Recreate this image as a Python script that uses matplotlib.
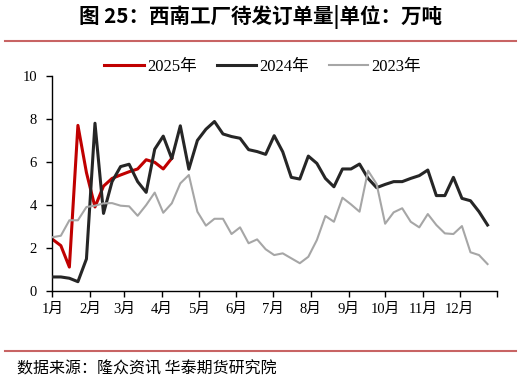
"""西南工厂待发订单量 (weekly, by year)"""
import matplotlib
matplotlib.use('Agg')
import matplotlib.pyplot as plt
import numpy as np

plt.rcParams['font.family'] = ['Liberation Serif', 'Noto Sans CJK SC']
plt.rcParams['axes.unicode_minus'] = False

# weekly readings, unit: 万吨
y2025 = [2.40, 2.10, 1.10, 7.70, 5.50, 3.90, 4.87, 5.23, 5.39, 5.54, 5.67, 6.10, 5.98,
         5.67, 6.17]
y2024 = [0.64, 0.64, 0.58, 0.42, 1.48, 7.80, 3.60, 5.08, 5.78, 5.89, 5.08, 4.58, 6.59,
         7.20, 6.15, 7.68, 5.66, 7.00, 7.52, 7.88, 7.30, 7.18, 7.10, 6.57, 6.48, 6.35,
         7.22, 6.47, 5.28, 5.20, 6.27, 5.93, 5.23, 4.84, 5.67, 5.67, 5.90, 5.23, 4.80,
         4.95, 5.08, 5.08, 5.23, 5.36, 5.62, 4.43, 4.43, 5.28, 4.30, 4.19, 3.68, 3.06]
y2023 = [2.49, 2.56, 3.28, 3.28, 3.90, 3.96, 4.07, 4.08, 3.96, 3.93, 3.49, 3.99, 4.57,
         3.63, 4.07, 5.00, 5.39, 3.68, 3.03, 3.35, 3.35, 2.64, 2.95, 2.21, 2.39, 1.93,
         1.66, 1.74, 1.51, 1.28, 1.58, 2.36, 3.48, 3.21, 4.33, 4.02, 3.68, 5.59, 4.97,
         3.12, 3.65, 3.84, 3.21, 2.95, 3.57, 3.06, 2.67, 2.64, 3.01, 1.79, 1.66, 1.24]

month_start = [0, 31, 59, 90, 120, 151, 181, 212, 243, 273, 304, 334, 365]
month_labels = [f'{m}月' for m in range(1, 13)] + ['']

RED = '#C00000'
BLACK = '#262626'
GRAY = '#A6A6A6'
RULE = '#C86464'

fig = plt.figure(figsize=(5.21, 3.80), dpi=100)
ax = fig.add_axes([0.1004, 0.235, 0.8541, 0.565])

day = lambda n: np.arange(n) * 7
ax.plot(day(len(y2025)), y2025, color=RED, lw=2.2, label='2025年', zorder=2)
ax.plot(day(len(y2024)), y2024, color=BLACK, lw=2.2, label='2024年', zorder=3)
ax.plot(day(len(y2023)), y2023, color=GRAY, lw=1.5, label='2023年', zorder=4)

ax.set_xlim(0, 365)
ax.set_ylim(0, 10)
ax.set_xticks(month_start)
ax.set_xticklabels(month_labels)
ax.set_yticks([0, 2, 4, 6, 8, 10])
ax.tick_params(axis='both', direction='out', length=4, width=1, labelsize=10.5,
               colors='black')
ax.tick_params(axis='y', pad=7)
ax.tick_params(axis='x', pad=5)
for s in ('top', 'right'):
    ax.spines[s].set_visible(False)
for s in ('left', 'bottom'):
    ax.spines[s].set_linewidth(1.0)
    ax.spines[s].set_color('black')

ax.legend(loc='lower center', bbox_to_anchor=(0.473, 0.975), ncol=3, frameon=False,
          fontsize=12, handlelength=2.35, columnspacing=1.2, handletextpad=0.2,
          borderaxespad=0)

fig.text(0.5, 0.955, '图 25：西南工厂待发订单量|单位：万吨', ha='center', va='center',
         fontsize=14.8, fontweight='bold', family=['Noto Sans CJK SC'])
fig.add_artist(plt.Line2D([0.01, 0.99], [1 - 41 / 380] * 2, color=RULE, lw=1.5))
fig.add_artist(plt.Line2D([0.01, 0.99], [1 - 350.7 / 380] * 2, color=RULE, lw=1.5))
fig.text(0.033, 1 - 369 / 380, '数据来源：隆众资讯 华泰期货研究院', ha='left', va='center',
         fontsize=11.5, family=['Noto Sans CJK SC'])

fig.savefig('out.png', dpi=100, facecolor='white')
plt.close(fig)
